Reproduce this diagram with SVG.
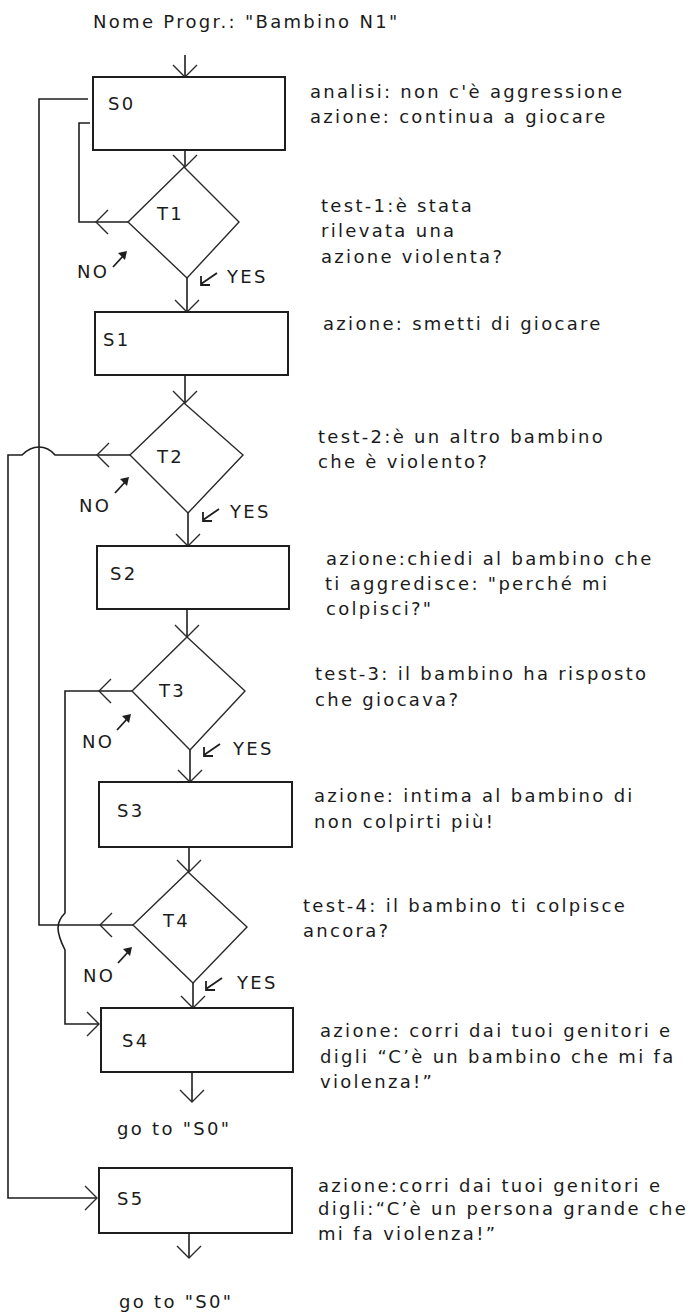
<svg xmlns="http://www.w3.org/2000/svg" xmlns:xlink="http://www.w3.org/1999/xlink" width="695" height="1313" viewBox="0 0 695 1313">
  <style>
    text { font-family: "DejaVu Sans", Verdana, sans-serif; font-size: 18px; letter-spacing: 2.3px; fill: #1b1b1b; }
    .box { fill: #ffffff; stroke: #1e1e1e; stroke-width: 2; }
    .dia { fill: #ffffff; stroke: #2a2a2a; stroke-width: 1.4; }
    .ln { fill: none; stroke: #1e1e1e; stroke-width: 1.6; }
    .vee { fill: none; stroke: #2a2a2a; stroke-width: 1.4; }
    .tiny { fill: none; stroke: #1e1e1e; stroke-width: 1.8; }
    .tinyhead { fill: #1e1e1e; stroke: none; }
  </style>
  <defs>
    <!-- open arrowhead, tip at origin, pointing down -->
    <path id="vee" class="vee" d="M-12,-12 L0,0 L12,-12"/>
    <!-- small "NO" pointer, starts at origin, points up-right -->
    <g id="noPtr">
      <path class="tiny" d="M0,0 L11,-12"/>
      <polygon class="tinyhead" points="14,-16 5,-14 12,-7"/>
    </g>
    <!-- small "YES" pointer, corner at origin, points down-left -->
    <g id="yesPtr">
      <path class="tiny" d="M17,-12 L1,-1 M1,-9 L1,0 L10,0"/>
    </g>
  </defs>

  <rect width="695" height="1313" fill="#ffffff"/>

  <text x="93" y="28">Nome Progr.: "Bambino N1"</text>

  <g id="connectors">
    <!-- main vertical flow -->
    <path class="ln" d="M185,55 L185,77"/>
    <path class="ln" d="M185,150 L185,167"/>
    <path class="ln" d="M187,278 L187,312"/>
    <path class="ln" d="M185,375 L185,403"/>
    <path class="ln" d="M188,513 L188,546"/>
    <path class="ln" d="M187,609 L187,637"/>
    <path class="ln" d="M190,750 L190,782"/>
    <path class="ln" d="M189,847 L189,872"/>
    <path class="ln" d="M193,983 L193,1008"/>
    <path class="ln" d="M192,1072 L192,1102"/>
    <path class="ln" d="M189,1233 L189,1258"/>
    <use xlink:href="#vee" transform="translate(185,77)"/>
    <use xlink:href="#vee" transform="translate(185,167)"/>
    <use xlink:href="#vee" transform="translate(187,312)"/>
    <use xlink:href="#vee" transform="translate(185,403)"/>
    <use xlink:href="#vee" transform="translate(188,546)"/>
    <use xlink:href="#vee" transform="translate(187,637)"/>
    <use xlink:href="#vee" transform="translate(190,782)"/>
    <use xlink:href="#vee" transform="translate(189,872)"/>
    <use xlink:href="#vee" transform="translate(193,1008)"/>
    <use xlink:href="#vee" transform="translate(192,1102)"/>
    <use xlink:href="#vee" transform="translate(189,1258)"/>

    <!-- T1 NO: back to S0 -->
    <path class="ln" d="M128,222 L79,222 L79,123 L90,123"/>
    <use xlink:href="#vee" transform="translate(96,222) rotate(90)"/>

    <!-- T4 NO: back to S0 along x=39 -->
    <path class="ln" d="M133,925 L39,925 L39,99 L88,99"/>
    <use xlink:href="#vee" transform="translate(100,925) rotate(90)"/>

    <!-- T2 NO: jumps over x=39, down to S5 -->
    <path class="ln" d="M130,455 L55,455 C50,449 45,447 39,447 C33,447 28,449 22,455 L8,455 L8,1198 L97,1198"/>
    <use xlink:href="#vee" transform="translate(97,455) rotate(90)"/>
    <use xlink:href="#vee" transform="translate(97,1198) rotate(-90)"/>

    <!-- T3 NO: jumps around y=925, down to S4 -->
    <path class="ln" d="M132,691 L65,691 L65,913 C60,918 58,922 58,928 C58,936 62,944 65,950 L65,1024 L99,1024"/>
    <use xlink:href="#vee" transform="translate(99,691) rotate(90)"/>
    <use xlink:href="#vee" transform="translate(99,1024) rotate(-90)"/>
  </g>

  <g id="S0">
    <rect class="box" x="93" y="77" width="192" height="73"/>
    <text x="108" y="110">S0</text>
    <text x="310" y="98">analisi: non c'è aggressione</text>
    <text x="310" y="123">azione: continua a giocare</text>
  </g>

  <g id="T1">
    <polygon class="dia" points="184,167 239,222 187,278 128,222"/>
    <text x="157" y="220">T1</text>
    <text x="321" y="212">test-1:è stata</text>
    <text x="321" y="237">rilevata una</text>
    <text x="321" y="263">azione violenta?</text>
    <text x="77" y="278">NO</text>
    <use xlink:href="#noPtr" x="113" y="267"/>
    <text x="227" y="283">YES</text>
    <use xlink:href="#yesPtr" x="200" y="285"/>
  </g>

  <g id="S1">
    <rect class="box" x="95" y="312" width="193" height="63"/>
    <text x="103" y="346">S1</text>
    <text x="323" y="330">azione: smetti di giocare</text>
  </g>

  <g id="T2">
    <polygon class="dia" points="184,403 243,455 188,513 130,455"/>
    <text x="157" y="463">T2</text>
    <text x="318" y="443">test-2:è un altro bambino</text>
    <text x="318" y="468">che è violento?</text>
    <text x="79" y="512">NO</text>
    <use xlink:href="#noPtr" x="115" y="493"/>
    <text x="230" y="518">YES</text>
    <use xlink:href="#yesPtr" x="202" y="521"/>
  </g>

  <g id="S2">
    <rect class="box" x="97" y="546" width="192" height="63"/>
    <text x="110" y="580">S2</text>
    <text x="326" y="565">azione:chiedi al bambino che</text>
    <text x="325" y="590">ti aggredisce: "perché mi</text>
    <text x="326" y="615">colpisci?"</text>
  </g>

  <g id="T3">
    <polygon class="dia" points="187,637 245,691 190,750 132,691"/>
    <text x="159" y="697">T3</text>
    <text x="315" y="680">test-3: il bambino ha risposto</text>
    <text x="315" y="706">che giocava?</text>
    <text x="82" y="748">NO</text>
    <use xlink:href="#noPtr" x="117" y="730"/>
    <text x="233" y="755">YES</text>
    <use xlink:href="#yesPtr" x="203" y="756"/>
  </g>

  <g id="S3">
    <rect class="box" x="99" y="782" width="193" height="65"/>
    <text x="117" y="817">S3</text>
    <text x="314" y="802">azione: intima al bambino di</text>
    <text x="314" y="828">non colpirti più!</text>
  </g>

  <g id="T4">
    <polygon class="dia" points="188,872 247,927 193,983 133,925"/>
    <text x="163" y="927">T4</text>
    <text x="303" y="912">test-4: il bambino ti colpisce</text>
    <text x="303" y="937">ancora?</text>
    <text x="83" y="982">NO</text>
    <use xlink:href="#noPtr" x="118" y="963"/>
    <text x="237" y="989">YES</text>
    <use xlink:href="#yesPtr" x="205" y="990"/>
  </g>

  <g id="S4">
    <rect class="box" x="101" y="1008" width="192" height="64"/>
    <text x="122" y="1047">S4</text>
    <text x="320" y="1037">azione: corri dai tuoi genitori e</text>
    <text x="320" y="1063">digli “C’è un bambino che mi fa</text>
    <text x="320" y="1088">violenza!”</text>
    <text x="117" y="1135">go to "S0"</text>
  </g>

  <g id="S5">
    <rect class="box" x="99" y="1168" width="193" height="65"/>
    <text x="117" y="1205">S5</text>
    <text x="318" y="1192">azione:corri dai tuoi genitori e</text>
    <text x="318" y="1215">digli:“C’è un persona grande che</text>
    <text x="318" y="1240">mi fa violenza!”</text>
    <text x="119" y="1308">go to "S0"</text>
  </g>
</svg>
